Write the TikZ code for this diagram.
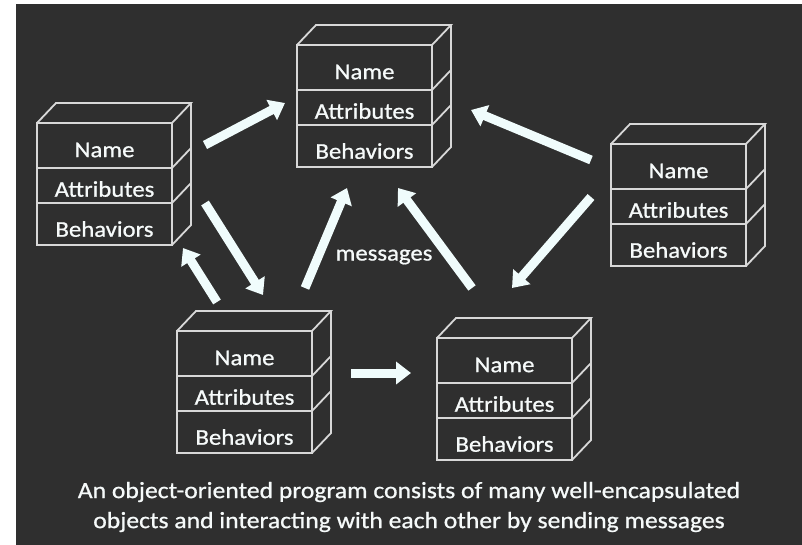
\documentclass[tikz,border=0pt]{standalone}
\usepackage{fontspec}
\setmainfont{Carlito}[FakeStretch=1.1, FakeBold=0.8]
\usetikzlibrary{arrows.meta}
\definecolor{bg}{HTML}{2F2F2F}
\definecolor{edge}{HTML}{D8D8D8}
\definecolor{arr}{HTML}{F0FCFC}
\definecolor{txt}{HTML}{F6FAFA}
\tikzset{
  boxline/.style={draw=edge, line width=1.8pt, line join=miter},
  lbl/.style={text=txt, font=\fontsize{22.5}{26}\selectfont, inner sep=0pt},
  msg/.style={line width=9pt, draw=arr, -{Triangle[width=22pt,length=15pt]}},
  objbox/.pic={
    \draw[boxline] (0,0) rectangle (135,122);
    \draw[boxline] (0,45) -- (135,45) (0,80) -- (135,80);
    \draw[boxline] (0,0) -- (19,-20) -- (154,-20) -- (135,0);
    \draw[boxline] (154,-20) -- (154,102) -- (135,122);
    \draw[boxline] (135,45) -- (154,25) (135,80) -- (154,60);
    \node[lbl] (-name) at (67.5,27) {Name};
    \node[lbl] (-attr) at (67.5,66) {Attributes};
    \node[lbl] (-beh) at (67.5,106) {Behaviors};
  }
}
\begin{document}
\begin{tikzpicture}[x=1pt,y=-1pt]
\useasboundingbox (0,0) rectangle (802,545);
\fill[white] (0,0) rectangle (802,545);
\fill[bg] (16,4) rectangle (802,545);

\pic (b1) at (297,45) {objbox};
\pic (b2) at (37,123) {objbox};
\pic (b3) at (611,144) {objbox};
\pic (b4) at (177,331) {objbox};
\pic (b5) at (437,338) {objbox};

\coordinate (a1s) at (205,145); \coordinate (a1e) at (285,103);
\coordinate (a2s) at (591,160); \coordinate (a2e) at (471,110);
\coordinate (a3s) at (205,203); \coordinate (a3e) at (263,295);
\coordinate (a4s) at (217,302); \coordinate (a4e) at (183,248);
\coordinate (a5s) at (305,288); \coordinate (a5e) at (347,188);
\coordinate (a6s) at (472,288); \coordinate (a6e) at (398,188);
\coordinate (a7s) at (591,197); \coordinate (a7e) at (512,288);
\coordinate (a8s) at (351,373); \coordinate (a8e) at (411,373);

\draw[msg] (a1s) -- (a1e);
\draw[msg] (a2s) -- (a2e);
\draw[msg] (a3s) -- (a3e);
\draw[msg] (a4s) -- (a4e);
\draw[msg] (a5s) -- (a5e);
\draw[msg] (a6s) -- (a6e);
\draw[msg] (a7s) -- (a7e);
\draw[msg] (a8s) -- (a8e);

\node[lbl] (messages) at (384,257) {messages};

\node[lbl, align=center, font=\fontsize{23.3}{30}\selectfont] (caption) at (409,507)
  {An object-oriented program consists of many well-encapsulated\\
   objects and interacting with each other by sending messages};
\end{tikzpicture}
\end{document}
